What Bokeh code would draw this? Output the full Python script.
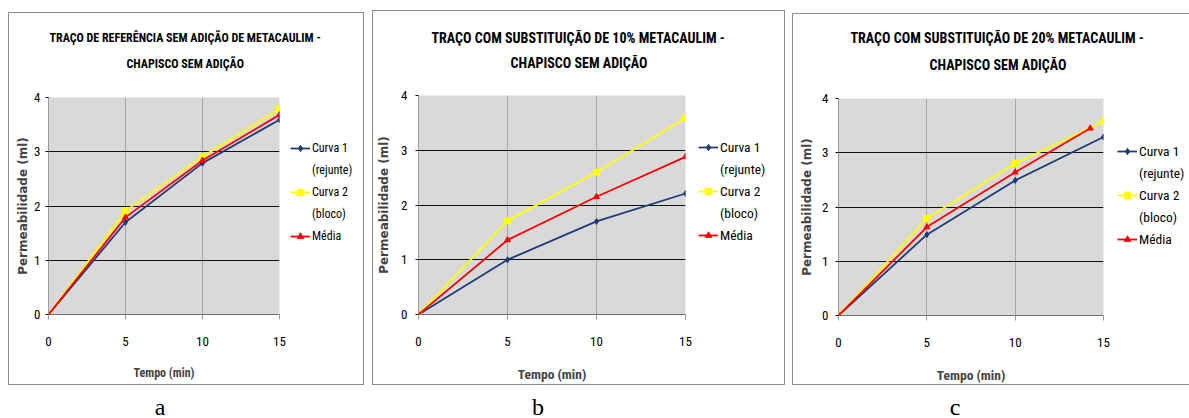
from bokeh.plotting import figure
from bokeh.models import Range1d, Legend, LegendItem, Div, FixedTicker, Title
from bokeh.layouts import row, column
from bokeh.embed import file_html
from bokeh.resources import INLINE

# ---------------- data ----------------
tempo = [0, 5, 10, 15]
y_ticks = [0, 1, 2, 3, 4]
x_ticks = [0, 5, 10, 15]

a_curva1 = [0, 1.70, 2.79, 3.59]
a_curva2 = [0, 1.91, 2.91, 3.79]
a_media = [0, 1.79, 2.84, 3.68]
a_media_tempo = [0, 5, 10, 15]

b_curva1 = [0, 1.00, 1.70, 2.21]
b_curva2 = [0, 1.71, 2.60, 3.59]
b_media = [0, 1.36, 2.15, 2.88]
b_media_tempo = [0, 5, 10, 15]

c_curva1 = [0, 1.49, 2.49, 3.29]
c_curva2 = [0, 1.79, 2.80, 3.58]
c_media = [0, 1.63, 2.64, 3.45]
c_media_tempo = [0, 5, 10, 14.25]

titles = [
    ("TRAÇO DE REFERÊNCIA SEM ADIÇÃO DE METACAULIM -", "CHAPISCO SEM ADIÇÃO"),
    ("TRAÇO COM SUBSTITUIÇÃO DE 10% METACAULIM -", "CHAPISCO SEM ADIÇÃO"),
    ("TRAÇO COM SUBSTITUIÇÃO DE 20% METACAULIM -", "CHAPISCO SEM ADIÇÃO"),
]
legend_labels = ["Curva 1", "(rejunte)", "Curva 2", "(bloco)", "Média"]
panel_letters = ["a", "b", "c"]
x_label = "Tempo (min)"
y_label = "Permeabilidade (ml)"

NARROW = "'Roboto Condensed', 'Liberation Sans Narrow', 'Arial Narrow', sans-serif"
NAVY = "#1F3A7A"
YELLOW = "#FFFF00"
RED = "#FF0000"
BORDER = "#8C8C8C"


def make_figure(t1, t2, c1, c2, med, med_x, g):
    p = figure(
        frame_width=g["fw"], frame_height=g["fh"],
        min_border_left=g["bl"], min_border_right=g["br"],
        min_border_top=g["bt"], min_border_bottom=g["bb"],
        x_range=Range1d(0, 15), y_range=Range1d(0, 4),
        output_backend="svg", toolbar_location=None,
        background_fill_color="#D9D9D9", border_fill_color="white",
        outline_line_color=None, margin=g["margin"],
    )
    p.title.visible = False
    p.styles = {"outline": f"1px solid {BORDER}"}

    # two-line title (line 2 nearest the frame)
    tt2 = Title(text=t2, align="left", offset=g["to2"], standoff=g["ts2"],
                text_font=NARROW, text_font_size=g["t_fs"], text_font_style="bold",
                text_color="#000000")
    tt1 = Title(text=t1, align="left", offset=g["to1"], standoff=g["ts1"],
                text_font=NARROW, text_font_size=g["t_fs"], text_font_style="bold",
                text_color="#000000")
    p.add_layout(tt2, "above")
    p.add_layout(tt1, "above")

    p.xaxis.ticker = FixedTicker(ticks=x_ticks)
    p.yaxis.ticker = FixedTicker(ticks=y_ticks)
    p.xaxis.minor_tick_line_color = None
    p.yaxis.minor_tick_line_color = None
    p.xaxis.major_tick_in = 0
    p.xaxis.major_tick_out = 5
    p.yaxis.major_tick_in = 0
    p.yaxis.major_tick_out = 3
    p.xaxis.axis_line_color = "#6F6F6F"
    p.yaxis.axis_line_color = "#9A9A9A"
    p.xaxis.major_tick_line_color = "#9A9A9A"
    p.yaxis.major_tick_line_color = "#000000"
    p.xaxis.major_label_standoff = 17
    p.yaxis.major_label_standoff = g["ystand"]
    for ax in (p.xaxis[0], p.yaxis[0]):
        ax.major_label_text_font = NARROW
        ax.major_label_text_font_size = "13px"
        ax.major_label_text_color = "#000000"
    p.xaxis.axis_label = x_label
    p.xaxis.axis_label_text_font = NARROW
    p.xaxis.axis_label_text_font_size = g["xl_fs"]
    p.xaxis.axis_label_text_font_style = "bold"
    p.xaxis.axis_label_standoff = 17
    p.yaxis.axis_label = y_label
    p.yaxis.axis_label_text_font = "DejaVu Sans"
    p.yaxis.axis_label_text_font_size = "12px"
    p.yaxis.axis_label_text_font_style = "bold"
    p.yaxis.axis_label_standoff = g["ylstand"]

    p.xgrid.grid_line_color = "#A6A6A6"
    p.ygrid.grid_line_color = "#111111"

    l1 = p.line(tempo, c1, line_color=NAVY, line_width=1.8)
    m1 = p.scatter(tempo, c1, marker="diamond", size=6, fill_color=NAVY, line_color=NAVY)
    l2 = p.line(tempo, c2, line_color=YELLOW, line_width=1.8)
    m2 = p.scatter(tempo, c2, marker="square", size=6, fill_color=YELLOW, line_color=YELLOW)
    l3 = p.line(med_x, med, line_color=RED, line_width=1.8)
    m3 = p.scatter(med_x, med, marker="triangle", size=6, fill_color=RED, line_color=RED)
    dummy = p.line([], [], line_alpha=0)

    items = [
        LegendItem(label=legend_labels[0], renderers=[l1, m1]),
        LegendItem(label=legend_labels[1], renderers=[dummy]),
        LegendItem(label=legend_labels[2], renderers=[l2, m2]),
        LegendItem(label=legend_labels[3], renderers=[dummy]),
        LegendItem(label=legend_labels[4], renderers=[l3, m3]),
    ]
    leg = Legend(items=items, location=(g["lx"], g["ly"]),
                 glyph_width=20, glyph_height=16, label_height=16, spacing=6,
                 label_standoff=2, padding=0, margin=0,
                 border_line_color=None, background_fill_alpha=0,
                 label_text_font=NARROW, label_text_font_size=g["lg_fs"],
                 label_text_color="#000000")
    p.add_layout(leg, "right")
    return p


geos = [
    # panel a: box x 9..363, y 13..384 ; frame 48..279 x 97..314
    dict(margin=(13, 0, 0, 9), fw=231, fh=217, bl=39, br=84, bt=84, bb=70,
         t_fs="12px", to1=1, to2=78, ts1=-33, ts2=53,
         ystand=5, ylstand=1, xl_fs="12px", lg_fs="12px", lx=11, ly=70),
    # panel b: box x 373..784, y 11..384 ; frame 418..685 x 95..314
    dict(margin=(11, 0, 0, 10), fw=267, fh=219, bl=45, br=99, bt=84, bb=70,
         t_fs="14px", to1=13, to2=92, ts1=-35, ts2=49,
         ystand=8, ylstand=7, xl_fs="13.5px", lg_fs="13.5px", lx=13, ly=71),
    # panel c: box x 793..1189, y 14..384 ; frame 838..1103 x 97..314
    dict(margin=(14, 0, 0, 9), fw=265, fh=217, bl=45, br=86, bt=83, bb=70,
         t_fs="14px", to1=12, to2=91, ts1=-33, ts2=51,
         ystand=7, ylstand=5, xl_fs="13.5px", lg_fs="13.5px", lx=14, ly=68),
]
data = [
    (a_curva1, a_curva2, a_media, a_media_tempo),
    (b_curva1, b_curva2, b_media, b_media_tempo),
    (c_curva1, c_curva2, c_media, c_media_tempo),
]

figs = []
for (t1, t2), (c1, c2, med, mx), g in zip(titles, data, geos):
    figs.append(make_figure(t1, t2, c1, c2, med, mx, g))

label_margins = [140, 338, 377]
divs = []
for letter, ml in zip(panel_letters, label_margins):
    divs.append(Div(
        text=(f'<div style="font-family: \'Liberation Serif\', \'Times New Roman\', serif; '
              f'font-size: 24px; line-height: 20px; text-align: center; width: 40px; color: #000;">'
              f'{letter}</div>'),
        width=40, height=20, margin=(13, 0, 0, ml)))

layout = column(row(*figs, margin=0), row(*divs, margin=0), margin=0)

open("out.html", "w").write(file_html(layout, INLINE))
